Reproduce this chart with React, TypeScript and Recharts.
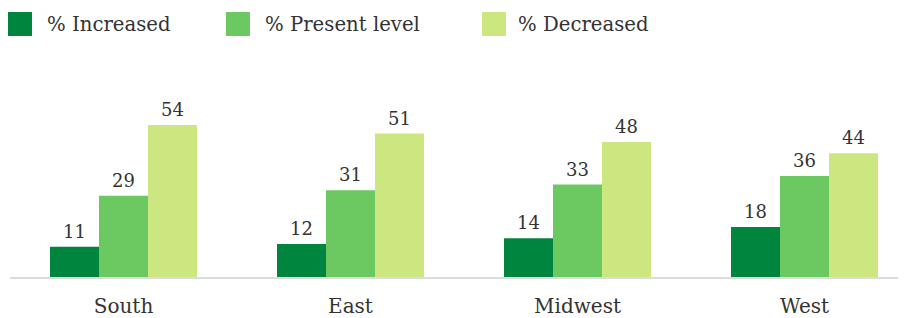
import React from 'react';
import { BarChart, Bar, XAxis, YAxis, Legend, LabelList } from 'recharts';

const categories = ['South', 'East', 'Midwest', 'West'];
const increased = [11, 12, 14, 18];
const presentLevel = [29, 31, 33, 36];
const decreased = [54, 51, 48, 44];

const seriesNames = ['% Increased', '% Present level', '% Decreased'];
const seriesKeys = ['increased', 'present', 'decreased'];
const seriesColors = ['#00853E', '#6CC860', '#CDE780'];

const data = categories.map((c, i) => ({
  region: c,
  increased: increased[i],
  present: presentLevel[i],
  decreased: decreased[i],
}));

const FONT = '"DejaVu Serif", serif';
const TEXT = '#333333';

const itemWidths = [218, 256, 300];
const textGaps = [15, 15, 12];

const CustomLegend = () => (
  <div style={{ display: 'flex', height: 40, alignItems: 'flex-start', fontFamily: FONT }}>
    {seriesNames.map((n, i) => (
      <div key={n} style={{ display: 'flex', alignItems: 'center', width: itemWidths[i], paddingTop: 4 }}>
        <div style={{ width: 24, height: 24, background: seriesColors[i], flex: 'none' }} />
        <span style={{ marginLeft: textGaps[i], fontSize: 19.7, color: TEXT, whiteSpace: 'nowrap' }}>{n}</span>
      </div>
    ))}
  </div>
);

export default function App() {
  return (
    <BarChart
      width={898}
      height={310}
      data={data}
      margin={{ top: 60, right: -12, bottom: 0, left: 2 }}
      barCategoryGap={40}
      barGap={0}
    >
      <Legend
        verticalAlign="top"
        content={<CustomLegend />}
        wrapperStyle={{ left: 0, top: 0, width: 898, height: 40 }}
      />
      <XAxis
        dataKey="region"
        height={40}
        axisLine={{ stroke: '#dcdcdc', strokeWidth: 2 }}
        tickLine={false}
        tickSize={6}
        tickMargin={15}
        tick={{ fill: TEXT, fontSize: 20, fontFamily: FONT }}
        interval={0}
      />
      <YAxis hide domain={[0, 60]} />
      {seriesKeys.map((k, i) => (
        <Bar key={k} dataKey={k} name={seriesNames[i]} fill={seriesColors[i]} isAnimationActive={false}>
          <LabelList dataKey={k} position="top" offset={9} fill={TEXT} fontSize={18} fontFamily={FONT} />
        </Bar>
      ))}
    </BarChart>
  );
}
